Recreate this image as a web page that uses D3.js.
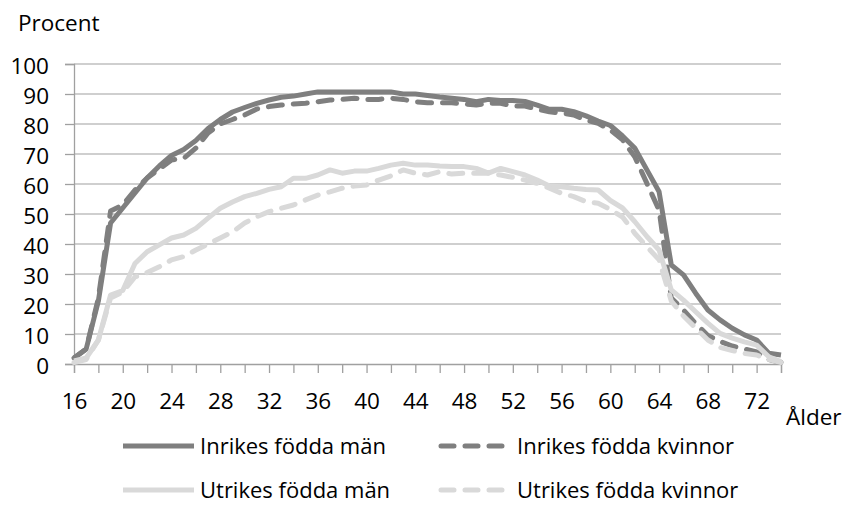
<!DOCTYPE html>
<html>
<head>
<meta charset="utf-8">
<script src="https://cdn.jsdelivr.net/npm/d3@7"></script>
<style>
  body { margin: 0; background: #fff; }
  svg { display: block; font-family: "Open Sans", sans-serif; }
</style>
</head>
<body>
<div id="chart"></div>
<script>
'use strict'

// ages 16..74, one value per year
const ages = d3.range(16, 75)

const inrikesMan = [2, 5, 21, 47, 52, 57, 62, 66, 69.5, 71.5, 74.5, 78.5, 81.5, 84, 85.5,
  86.9, 88, 88.9, 89.3, 90, 90.7, 90.7, 90.7, 90.7, 90.7, 90.7, 90.7, 90, 90, 89.5,
  89, 88.6, 88.2, 87.4, 88.2, 87.8, 87.8, 87.5, 86.3, 84.9, 84.9, 84.1, 82.7, 81, 79.5,
  76, 72, 64.7, 57.4, 33, 29.7, 23.6, 18, 14.7, 11.9, 9.7, 8, 3.6, 3]

const inrikesKvinnor = [2, 5, 22, 51, 53, 58, 62, 65, 68, 68.5, 72, 77, 80, 81.5, 83,
  85, 85.8, 86.3, 86.7, 86.9, 87.4, 88, 88.2, 88.6, 88.2, 88.2, 88.6, 88.2, 87.4, 87.1,
  87.1, 87.1, 86.7, 86.3, 86.9, 86.9, 86, 86, 84.9, 84.1, 83.6, 83, 81.3, 80.2, 78,
  74.7, 69.1, 60.2, 51.3, 22, 18, 13.5, 9.5, 7.5, 6, 5, 4, 1.5, 0.5]

const utrikesMan = [1, 2, 8, 23, 24.5, 33.5, 37.4, 39.7, 42, 43, 45.2, 48.6, 51.9, 54, 55.8,
  56.9, 58.2, 59.1, 61.9, 61.9, 63, 64.7, 63.6, 64.3, 64.3, 65.2, 66.3, 66.9, 66.3, 66.3,
  66, 65.8, 65.8, 65.2, 63.6, 65.2, 64.1, 63, 61.3, 59.3, 59.1, 58.6, 58.2, 58, 54.5,
  52, 47.5, 42.5, 38, 24.7, 21.3, 17.4, 13.6, 10.2, 8.6, 7.4, 6.3, 2.4, 0.8]

const utrikesKvinnor = [0.5, 1.5, 8, 22, 24, 29, 30.5, 32.4, 34.7, 35.8, 38, 40, 42, 44, 47,
  49.1, 50.8, 51.9, 53, 54.7, 56.3, 57.4, 58.6, 59.3, 59.7, 61.3, 62.7, 64.7, 63.6, 63,
  64.1, 63.3, 63.6, 63.6, 63.6, 63, 62.2, 61.3, 60.2, 58.6, 56.9, 55.8, 54.1, 53.6, 51.5,
  49, 43.6, 39.1, 34.7, 21, 16, 12, 8, 5.5, 4.5, 3.5, 3, 1.5, 0.5]

const seriesNames = ['Inrikes födda män', 'Inrikes födda kvinnor', 'Utrikes födda män', 'Utrikes födda kvinnor']
const yTicks = d3.range(0, 101, 10)
const xLabelTicks = d3.range(16, 73, 4)
const xMinorTicks = d3.range(16, 75, 2)

const W = 846, H = 505
const margin = { left: 74, right: 781, top: 64, bottom: 364 }

const DARK = '#7f7f7f', LIGHT = '#d9d9d9'
const styles = [
  { color: DARK, dash: null },
  { color: DARK, dash: '14,11' },
  { color: LIGHT, dash: null },
  { color: LIGHT, dash: '14,11' }
]

const svg = d3.select('#chart').append('svg')
  .attr('width', W).attr('height', H)

const x = d3.scaleLinear().domain([16, 74]).range([margin.left, margin.right])
const y = d3.scaleLinear().domain([0, 100]).range([margin.bottom, margin.top])

// gridlines
svg.append('g')
  .selectAll('line')
  .data(yTicks.filter(d => d > 0))
  .join('line')
  .attr('x1', margin.left).attr('x2', margin.right)
  .attr('y1', d => y(d)).attr('y2', d => y(d))
  .attr('stroke', '#bfbfbf').attr('stroke-width', 1.3)

// y axis
const yAxis = svg.append('g')
  .attr('transform', `translate(${margin.left},0)`)
  .call(d3.axisLeft(y).tickValues(yTicks).tickSize(9).tickPadding(16))
yAxis.select('.domain').attr('stroke', '#a0a0a0').attr('stroke-width', 1.3)
yAxis.selectAll('.tick line').attr('stroke', '#a0a0a0').attr('stroke-width', 1.3)
yAxis.selectAll('.tick text')
  .attr('font-size', 22.5).attr('font-family', '"Open Sans", sans-serif')
  .attr('fill', '#000').attr('dy', '0.42em')

// x axis: ticks every 2 years, labels every 4
const xAxis = svg.append('g')
  .attr('transform', `translate(0,${margin.bottom})`)
  .call(d3.axisBottom(x).tickValues(xMinorTicks).tickSize(9)
    .tickFormat(d => xLabelTicks.includes(d) ? d : ''))
xAxis.select('.domain').attr('stroke', '#a0a0a0').attr('stroke-width', 1.3)
xAxis.selectAll('.tick line').attr('stroke', '#a0a0a0').attr('stroke-width', 1.3)
xAxis.selectAll('.tick text')
  .attr('font-size', 22.5).attr('font-family', '"Open Sans", sans-serif')
  .attr('fill', '#000').attr('y', 29).attr('dy', '0.71em')

// axis titles
svg.append('text').attr('x', 18).attr('y', 31)
  .attr('font-size', 22.5).text('Procent')
svg.append('text').attr('x', 786).attr('y', 425)
  .attr('font-size', 22.5).text('Ålder')

// lines
const line = d3.line().x((d, i) => x(ages[i])).y(d => y(d))
const allSeries = [inrikesMan, inrikesKvinnor, utrikesMan, utrikesKvinnor]

allSeries.forEach((vals, i) => {
  svg.append('path')
    .datum(vals)
    .attr('d', line)
    .attr('fill', 'none')
    .attr('stroke', styles[i].color)
    .attr('stroke-width', 5)
    .attr('stroke-linejoin', 'round')
    .attr('stroke-linecap', styles[i].dash ? 'round' : 'butt')
    .attr('stroke-dasharray', styles[i].dash)
})

// legend, 2 x 2
const legendPos = [
  { lx: 123, tx: 200, y: 446 },
  { lx: 441, tx: 517, y: 446 },
  { lx: 123, tx: 200, y: 490 },
  { lx: 441, tx: 517, y: 490 }
]
const legend = svg.append('g')
seriesNames.forEach((name, i) => {
  const p = legendPos[i]
  legend.append('line')
    .attr('x1', p.lx).attr('x2', p.lx + (styles[i].dash ? 62 : 71))
    .attr('y1', p.y).attr('y2', p.y)
    .attr('stroke', styles[i].color).attr('stroke-width', 5)
    .attr('stroke-linecap', styles[i].dash ? 'round' : 'butt')
    .attr('stroke-dasharray', styles[i].dash ? '13,11' : null)
  legend.append('text')
    .attr('x', p.tx).attr('y', p.y + 8)
    .attr('font-size', 22).text(name)
})
</script>
</body>
</html>
